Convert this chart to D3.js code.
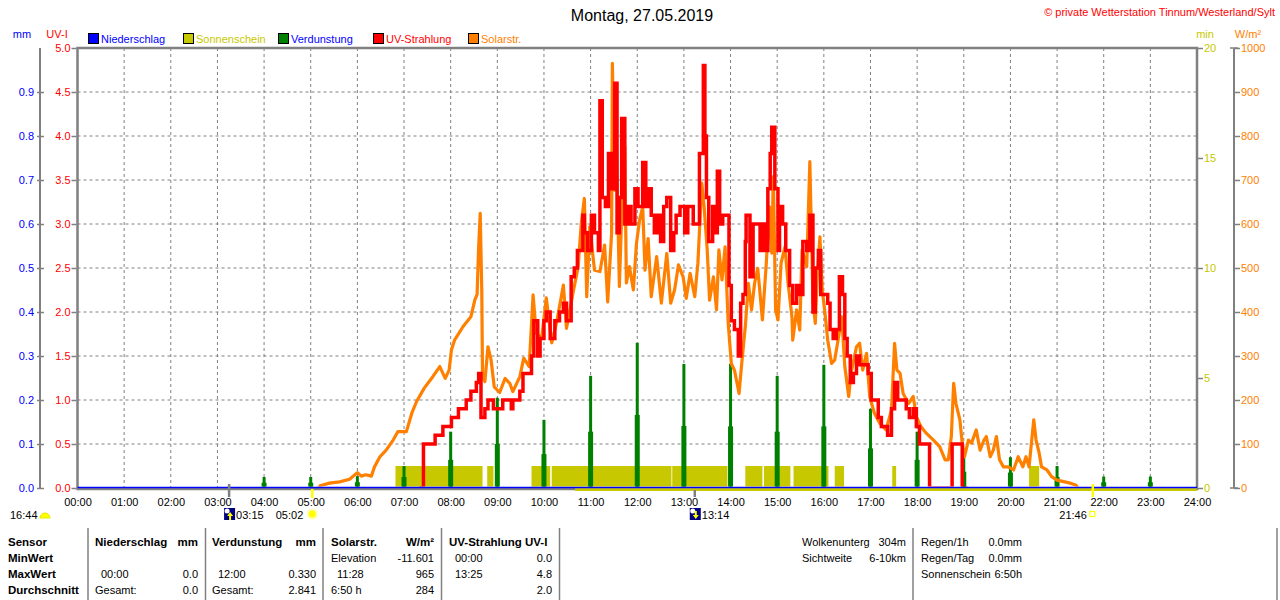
<!DOCTYPE html>
<html>
<head>
<meta charset="utf-8">
<script src="https://cdn.jsdelivr.net/npm/d3@7"></script>
<style>
  body { margin: 0; background: #fff; }
  svg { display: block; font-family: "Liberation Sans", Arial, sans-serif; }
</style>
</head>
<body>
<svg id="chart" width="1280" height="600"></svg>
<script>
// Tick labels for the axes.
const hourLabels = ["00:00", "01:00", "02:00", "03:00", "04:00", "05:00", "06:00", "07:00", "08:00",
  "09:00", "10:00", "11:00", "12:00", "13:00", "14:00", "15:00", "16:00", "17:00", "18:00",
  "19:00", "20:00", "21:00", "22:00", "23:00", "24:00"];
const uvTicks = [0, 0.5, 1, 1.5, 2, 2.5, 3, 3.5, 4, 4.5, 5];
const mmTicks = [0, 0.1, 0.2, 0.3, 0.4, 0.5, 0.6, 0.7, 0.8, 0.9];
const minTicks = [0, 5, 10, 15, 20];
const solarTicks = [0, 100, 200, 300, 400, 500, 600, 700, 800, 900, 1000];

// Niederschlag (mm) - nothing fell all day.
const rain = [["00:00", 0], ["24:00", 0]];

// Sonnenschein (min) - blocks of sunshine.
const sunStart = ["06:49", "08:47", "09:44", "10:10", "12:45", "14:19", "14:43", "15:21", "16:14", "17:28", "18:44", "20:24"];
const sunEnd = ["08:41", "08:55", "10:08", "12:44", "13:56", "14:41", "15:17", "16:06", "16:26", "17:33", "18:46", "20:37"];
const sunValue = [1, 1, 1, 1, 1, 1, 1, 1, 1, 1, 1, 1];
const sunBaseFrom = "10:40";

// Verdunstung (mm) per hour.
const evapHours = ["04:00", "05:00", "06:00", "07:00", "08:00", "09:00", "10:00", "11:00", "12:00", "13:00",
  "14:00", "15:00", "16:00", "17:00", "18:00", "19:00", "20:00", "21:00", "22:00", "23:00"];
const evapValues = [0.025, 0.025, 0.027, 0.05, 0.128, 0.205, 0.155, 0.255, 0.33, 0.282,
  0.282, 0.255, 0.28, 0.18, 0.128, 0.075, 0.07, 0.05, 0.026, 0.026];
const evapLead = [0.012, 0.012, 0.013, 0.025, 0.064, 0.1, 0.077, 0.128, 0.166, 0.141,
  0.14, 0.128, 0.14, 0.09, 0.064, 0.037, 0.035, 0.025, 0.013, 0.013];

// UV-Strahlung (UV-I).
const uv = [["07:20", 0], ["07:25", 0.5], ["07:40", 0.6], ["07:50", 0.7], ["08:01", 0.8], ["08:10", 0.9],
  ["08:20", 1.0], ["08:26", 1.1], ["08:33", 1.2], ["08:36", 1.3], ["08:39", 0.8], ["08:44", 0.9],
  ["08:48", 1.0], ["08:55", 0.9], ["09:07", 1.0], ["09:18", 0.9], ["09:20", 1.0], ["09:29", 1.1],
  ["09:33", 1.3], ["09:44", 1.5], ["09:47", 1.9], ["09:52", 1.5], ["09:55", 1.7], ["10:00", 1.9],
  ["10:03", 2.0], ["10:08", 1.7], ["10:14", 1.9], ["10:20", 2.0], ["10:25", 2.1], ["10:29", 1.9],
  ["10:35", 2.4], ["10:39", 2.5], ["10:43", 2.7], ["10:50", 3.1], ["10:52", 2.9], ["10:56", 2.7],
  ["11:01", 3.1], ["11:05", 2.9], ["11:10", 2.7], ["11:12", 4.4], ["11:15", 3.3], ["11:19", 3.2],
  ["11:23", 3.8], ["11:27", 3.4], ["11:31", 4.6], ["11:34", 2.9], ["11:37", 3.3], ["11:40", 4.2],
  ["11:44", 3.0], ["11:48", 3.2], ["11:52", 3.0], ["11:57", 3.4], ["12:01", 3.2], ["12:07", 3.7],
  ["12:11", 3.2], ["12:15", 3.4], ["12:18", 3.1], ["12:22", 2.9], ["12:26", 3.1], ["12:30", 2.8],
  ["12:34", 3.2], ["12:38", 3.3], ["12:43", 2.7], ["12:47", 2.9], ["12:50", 3.1], ["12:55", 3.2],
  ["13:01", 2.9], ["13:05", 3.2], ["13:12", 3.0], ["13:20", 3.8], ["13:25", 4.8], ["13:27", 4.0],
  ["13:29", 3.3], ["13:32", 2.8], ["13:37", 3.2], ["13:40", 2.9], ["13:43", 3.6], ["13:46", 3.0],
  ["13:50", 3.1], ["13:58", 2.3], ["14:01", 1.9], ["14:05", 1.8], ["14:10", 1.5], ["14:13", 2.1],
  ["14:16", 2.2], ["14:19", 2.8], ["14:20", 3.1], ["14:25", 2.4], ["14:29", 3.0], ["14:38", 2.7],
  ["14:41", 3.0], ["14:45", 2.7], ["14:48", 3.4], ["14:51", 3.8], ["14:53", 4.1], ["14:57", 3.4],
  ["15:01", 2.7], ["15:03", 3.2], ["15:07", 3.0], ["15:11", 2.7], ["15:16", 2.3], ["15:20", 2.1],
  ["15:25", 2.3], ["15:29", 2.2], ["15:33", 2.8], ["15:38", 2.7], ["15:42", 3.1], ["15:46", 2.0],
  ["15:49", 2.5], ["15:53", 2.7], ["15:56", 2.2], ["16:05", 2.1], ["16:08", 1.8], ["16:12", 1.7],
  ["16:16", 1.8], ["16:20", 2.4], ["16:24", 2.2], ["16:27", 1.7], ["16:30", 1.5], ["16:34", 1.2],
  ["16:38", 1.3], ["16:42", 1.5], ["16:46", 1.4], ["16:53", 1.4], ["16:57", 1.3], ["17:01", 1.0],
  ["17:10", 0.8], ["17:14", 0.7], ["17:22", 0.6], ["17:27", 0.9], ["17:31", 1.2], ["17:35", 1.0],
  ["17:46", 0.9], ["17:50", 0.8], ["17:55", 0.9], ["17:59", 0.7], ["18:03", 0.5], ["18:16", 0],
  ["18:45", 0.5], ["18:58", 0], ["19:05", 0]];

// Solarstrahlung (W/m²).
const solar = [["05:10", 0], ["05:12", 5], ["05:24", 11], ["05:37", 14], ["05:50", 20], ["06:00", 35],
  ["06:05", 27], ["06:11", 30], ["06:18", 27], ["06:22", 48], ["06:29", 71], ["06:37", 86],
  ["06:46", 109], ["06:52", 128], ["07:03", 128], ["07:10", 170], ["07:16", 196], ["07:26", 227],
  ["07:37", 253], ["07:46", 276], ["07:53", 249], ["07:58", 268], ["08:01", 314], ["08:05", 336],
  ["08:16", 367], ["08:26", 389], ["08:31", 427], ["08:34", 440], ["08:36", 548], ["08:38", 624],
  ["08:40", 450], ["08:41", 253], ["08:44", 242], ["08:48", 321], ["08:52", 291], ["08:56", 230],
  ["09:03", 217], ["09:10", 249], ["09:16", 238], ["09:20", 219], ["09:29", 253], ["09:34", 295],
  ["09:41", 276], ["09:46", 439], ["09:50", 352], ["09:57", 340], ["10:03", 432], ["10:10", 330],
  ["10:16", 374], ["10:25", 461], ["10:29", 363], ["10:37", 440], ["10:44", 503], ["10:48", 602],
  ["10:52", 658], ["10:55", 435], ["10:59", 594], ["11:05", 495], ["11:12", 492], ["11:18", 552],
  ["11:22", 423], ["11:27", 579], ["11:28", 965], ["11:31", 677], ["11:33", 795], ["11:37", 458],
  ["11:41", 677], ["11:44", 776], ["11:46", 466], ["11:50", 503], ["11:55", 450], ["11:59", 556],
  ["12:03", 609], ["12:07", 639], ["12:10", 495], ["12:14", 567], ["12:18", 435], ["12:25", 526],
  ["12:31", 420], ["12:38", 533], ["12:43", 420], ["12:48", 450], ["12:53", 507], ["12:59", 480],
  ["13:03", 431], ["13:08", 488], ["13:14", 435], ["13:18", 511], ["13:23", 693], ["13:26", 639],
  ["13:30", 541], ["13:33", 427], ["13:38", 480], ["13:42", 405], ["13:45", 541], ["13:49", 473],
  ["13:53", 548], ["13:57", 374], ["14:01", 283], ["14:05", 268], ["14:11", 215], ["14:14", 276],
  ["14:19", 367], ["14:23", 465], ["14:27", 405], ["14:31", 466], ["14:35", 499], ["14:41", 382],
  ["14:46", 511], ["14:50", 639], ["14:53", 534], ["14:55", 708], ["14:58", 405], ["15:01", 382],
  ["15:05", 511], ["15:10", 548], ["15:14", 465], ["15:19", 389], ["15:20", 336], ["15:25", 405],
  ["15:29", 359], ["15:32", 541], ["15:38", 503], ["15:42", 742], ["15:46", 427], ["15:49", 374],
  ["15:52", 495], ["15:55", 571], ["15:58", 450], ["16:01", 405], ["16:05", 336], ["16:10", 283],
  ["16:14", 291], ["16:19", 344], ["16:23", 389], ["16:27", 276], ["16:32", 208], ["16:35", 261],
  ["16:42", 321], ["16:46", 329], ["16:50", 268], ["16:55", 306], ["16:59", 208], ["17:05", 170],
  ["17:12", 147], ["17:20", 132], ["17:27", 177], ["17:31", 329], ["17:34", 268], ["17:38", 261],
  ["17:42", 215], ["17:49", 192], ["17:55", 208], ["17:59", 162], ["18:05", 139], ["18:12", 124],
  ["18:21", 109], ["18:29", 94], ["18:36", 64], ["18:40", 64], ["18:44", 117], ["18:47", 238],
  ["18:50", 192], ["18:55", 155], ["18:58", 102], ["19:01", 71], ["19:06", 109], ["19:10", 102],
  ["19:16", 132], ["19:21", 86], ["19:26", 109], ["19:29", 117], ["19:34", 71], ["19:38", 86],
  ["19:42", 117], ["19:46", 64], ["19:51", 48], ["19:57", 48], ["20:04", 41], ["20:10", 71],
  ["20:16", 48], ["20:20", 71], ["20:24", 48], ["20:30", 155], ["20:33", 109], ["20:37", 79],
  ["20:40", 48], ["20:47", 41], ["20:53", 26], ["21:00", 18], ["21:17", 11], ["21:24", 7],
  ["21:27", 0]];

// Sun and moon times.
const moonRise = "03:15", sunRise = "05:02", moonSet = "13:14", sunSet = "21:46", dayLength = "16:44";

// Table below the chart.
const tableRows = ["Sensor", "MinWert", "MaxWert", "Durchschnitt"];
const tableCells = [
  // [row, x, anchor, text, bold]
  [0, 95, "start", "Niederschlag", true], [0, 198, "end", "mm", true],
  [0, 212, "start", "Verdunstung", true], [0, 316, "end", "mm", true],
  [0, 331, "start", "Solarstr.", true], [0, 434, "end", "W/m²", true],
  [0, 449, "start", "UV-Strahlung UV-I", true],
  [2, 101, "start", "00:00"], [2, 198, "end", "0.0"],
  [3, 95, "start", "Gesamt:"], [3, 198, "end", "0.0"],
  [2, 218, "start", "12:00"], [2, 316, "end", "0.330"],
  [3, 212, "start", "Gesamt:"], [3, 316, "end", "2.841"],
  [1, 331, "start", "Elevation"], [1, 434, "end", "-11.601"],
  [2, 337, "start", "11:28"], [2, 434, "end", "965"],
  [3, 331, "start", "6:50 h"], [3, 434, "end", "284"],
  [1, 455, "start", "00:00"], [1, 552, "end", "0.0"],
  [2, 455, "start", "13:25"], [2, 552, "end", "4.8"],
  [3, 552, "end", "2.0"],
  [0, 802, "start", "Wolkenunterg"], [0, 906, "end", "304m"],
  [1, 802, "start", "Sichtweite"], [1, 906, "end", "6-10km"],
  [0, 921, "start", "Regen/1h"], [0, 1022, "end", "0.0mm"],
  [1, 921, "start", "Regen/Tag"], [1, 1022, "end", "0.0mm"],
  [2, 921, "start", "Sonnenschein"], [2, 1022, "end", "6:50h"]
];
const tableDividers = [88, 205.5, 323, 441.5, 559.5, 913, 1277];

(function () {
  const BLUE = "#0000ff", YELLOW = "#c8c800", GREEN = "#008000", RED = "#ff0000",
    ORANGE = "#ff8000", GREY = "#808080";

  const hrs = (s) => {
    const p = s.split(":");
    return +p[0] + p[1] / 60;
  };

  const svg = d3.select("#chart");
  const left = 77.5, right = 1197, top = 48, bottom = 488;

  const x = d3.scaleLinear().domain([0, 24]).range([left, right]);
  const yUV = d3.scaleLinear().domain([0, 5]).range([bottom, top]);
  const yMM = d3.scaleLinear().domain([0, 1]).range([bottom, top]);
  const yMin = d3.scaleLinear().domain([0, 20]).range([bottom, top]);
  const ySol = d3.scaleLinear().domain([0, 1000]).range([bottom, top]);

  // Title and copyright.
  svg.append("text").attr("x", 642).attr("y", 21).attr("text-anchor", "middle")
    .attr("font-size", 16).text("Montag, 27.05.2019");
  svg.append("text").attr("x", 1275).attr("y", 16).attr("text-anchor", "end")
    .attr("font-size", 11).attr("fill", RED).text("© private Wetterstation Tinnum/Westerland/Sylt");

  // Axis unit labels.
  const unit = (xx, txt, col, anchor) => svg.append("text").attr("x", xx).attr("y", 38)
    .attr("font-size", 11).attr("fill", col).attr("text-anchor", anchor || "middle").text(txt);
  unit(22, "mm", BLUE);
  unit(57, "UV-I", RED);
  unit(1205, "min", YELLOW);
  unit(1248, "W/m²", ORANGE);

  // Legend.
  const legend = [
    { name: "Niederschlag", color: BLUE, text: BLUE, x: 88 },
    { name: "Sonnenschein", color: YELLOW, text: YELLOW, x: 183 },
    { name: "Verdunstung", color: GREEN, text: BLUE, x: 278 },
    { name: "UV-Strahlung", color: RED, text: RED, x: 373 },
    { name: "Solarstr.", color: ORANGE, text: ORANGE, x: 468 },
  ];
  const lg = svg.selectAll(".lg").data(legend).enter().append("g");
  lg.append("rect").attr("x", (d) => d.x + 0.5).attr("y", 33.5).attr("width", 10).attr("height", 10)
    .attr("fill", (d) => d.color).attr("stroke", "#000");
  lg.append("text").attr("x", (d) => d.x + 13).attr("y", 43).attr("font-size", 11)
    .attr("fill", (d) => d.text).text((d) => d.name);

  // Grid.
  const grid = svg.append("g").attr("stroke", GREY).attr("stroke-dasharray", "3,3");
  grid.selectAll(".v").data(hourLabels.slice(1, -1)).enter().append("line")
    .attr("x1", (d) => x(hrs(d))).attr("x2", (d) => x(hrs(d)))
    .attr("y1", top).attr("y2", bottom);
  grid.selectAll(".h").data(uvTicks.slice(1, -1)).enter().append("line")
    .attr("x1", left).attr("x2", right).attr("y1", (d) => yUV(d)).attr("y2", (d) => yUV(d));

  // Plot frame.
  svg.append("rect").attr("x", left).attr("y", top).attr("width", right - left)
    .attr("height", bottom - top + 1).attr("fill", "none").attr("stroke", GREY).attr("stroke-width", 2.5);

  // Axes.
  function styleAxis(g, col) {
    g.select(".domain").remove();
    g.selectAll(".tick line").attr("stroke", GREY).attr("stroke-width", 1.5);
    g.selectAll(".tick text").attr("fill", col).attr("font-size", 11)
      .attr("font-family", "Liberation Sans, Arial, sans-serif");
  }
  svg.append("g").attr("transform", `translate(${left - 1},0)`)
    .call(d3.axisLeft(yUV).tickValues(uvTicks).tickFormat(d3.format(".1f")).tickSize(5).tickPadding(1))
    .call((g) => styleAxis(g, RED));

  svg.append("line").attr("x1", 40).attr("x2", 40).attr("y1", top).attr("y2", bottom)
    .attr("stroke", GREY).attr("stroke-width", 2);
  svg.append("g").attr("transform", "translate(44,0)")
    .call(d3.axisLeft(yMM).tickValues(mmTicks).tickFormat(d3.format(".1f")).tickSize(7).tickPadding(3))
    .call((g) => styleAxis(g, BLUE));

  svg.append("g").attr("transform", `translate(${right + 1},0)`)
    .call(d3.axisRight(yMin).tickValues(minTicks).tickFormat(d3.format("d")).tickSize(5).tickPadding(1))
    .call((g) => styleAxis(g, YELLOW));

  svg.append("line").attr("x1", 1234).attr("x2", 1234).attr("y1", top).attr("y2", bottom)
    .attr("stroke", GREY).attr("stroke-width", 2);
  [top, bottom].forEach((yy) => svg.append("line").attr("x1", 1230).attr("x2", 1238)
    .attr("y1", yy).attr("y2", yy).attr("stroke", GREY).attr("stroke-width", 1.5));
  svg.append("g").attr("transform", "translate(1234,0)")
    .call(d3.axisRight(ySol).tickValues(solarTicks).tickFormat(d3.format("d")).tickSize(6).tickPadding(1))
    .call((g) => styleAxis(g, ORANGE));

  svg.append("g").attr("transform", `translate(0,${bottom})`)
    .call(d3.axisBottom(x).tickValues(hourLabels.map(hrs)).tickFormat((d, i) => hourLabels[i])
      .tickSize(0).tickPadding(10))
    .call((g) => styleAxis(g, "#000"));

  // Clip for the lines so the zero parts stay hidden under the base line.
  svg.append("clipPath").attr("id", "plot").append("rect")
    .attr("x", left).attr("y", top - 10).attr("width", right - left).attr("height", bottom - top + 8.5);
  const plot = svg.append("g").attr("clip-path", "url(#plot)");

  // Sonnenschein blocks.
  plot.selectAll(".sun").data(sunStart).enter().append("rect")
    .attr("x", (d) => x(hrs(d)))
    .attr("width", (d, i) => x(hrs(sunEnd[i])) - x(hrs(d)))
    .attr("y", (d, i) => yMin(sunValue[i]))
    .attr("height", (d, i) => bottom - yMin(sunValue[i]))
    .attr("fill", YELLOW);

  // Verdunstung bars.
  const ev = plot.selectAll(".ev").data(evapHours).enter().append("g");
  ev.append("rect").attr("x", (d) => x(hrs(d)) - 2.5).attr("width", 5)
    .attr("y", (d, i) => yMM(evapLead[i])).attr("height", (d, i) => bottom - yMM(evapLead[i]))
    .attr("fill", GREEN);
  ev.append("rect").attr("x", (d) => x(hrs(d)) - 1.5).attr("width", 3)
    .attr("y", (d, i) => yMM(evapValues[i])).attr("height", (d, i) => bottom - yMM(evapValues[i]))
    .attr("fill", GREEN);

  // Solarstrahlung.
  const solarLine = d3.line().x((d) => x(hrs(d[0]))).y((d) => ySol(d[1]));
  plot.append("path").datum(solar).attr("d", solarLine).attr("fill", "none")
    .attr("stroke", ORANGE).attr("stroke-width", 3.2).attr("stroke-linejoin", "round");

  // UV-Strahlung.
  const uvLine = d3.line().x((d) => x(hrs(d[0]))).y((d) => yUV(d[1])).curve(d3.curveStepAfter);
  plot.append("path").datum(uv).attr("d", uvLine).attr("fill", "none")
    .attr("stroke", RED).attr("stroke-width", 3.5);

  // Niederschlag line and the sunshine base line.
  const rainLine = d3.line().x((d) => x(hrs(d[0]))).y((d) => yMM(d[1]) - 0.5);
  svg.append("path").datum(rain).attr("d", rainLine).attr("stroke", BLUE).attr("stroke-width", 1.5);
  svg.append("line").attr("x1", x(hrs(sunBaseFrom))).attr("x2", right)
    .attr("y1", bottom + 1.8).attr("y2", bottom + 1.8).attr("stroke", YELLOW).attr("stroke-width", 2.5);

  // Sun and moon markers.
  const mark = (t, col, y1, y2) => svg.append("line").attr("x1", x(hrs(t))).attr("x2", x(hrs(t)))
    .attr("y1", y1).attr("y2", y2).attr("stroke", col).attr("stroke-width", 2.5);
  mark(moonRise, GREY, 484, 497);
  mark(moonSet, GREY, 490, 497);
  mark(sunRise, "#ffff00", 489, 498);
  mark(sunSet, "#ffff00", 484, 497);

  const small = (xx, txt, anchor) => svg.append("text").attr("x", xx).attr("y", 519)
    .attr("font-size", 11).attr("text-anchor", anchor || "start").text(txt);

  small(10, dayLength);
  svg.append("path").attr("d", "M40,518 A5,5 0 0 1 50,518 Z").attr("fill", "#ffff00")
    .attr("stroke", "#e8e800");

  function moonIcon(t, up) {
    const cx = x(hrs(t));
    svg.append("rect").attr("x", cx - 5).attr("y", 508).attr("width", 11).attr("height", 12).attr("fill", "#000080");
    svg.append("circle").attr("cx", cx - 2).attr("cy", 511).attr("r", 2.5).attr("fill", "#fff");
    svg.append("path").attr("fill", "#ffff00").attr("d", up
      ? `M${cx + 1},512 l3,4 h-2 v4 h-2 v-4 h-2 z`
      : `M${cx + 1},519 l3,-4 h-2 v-4 h-2 v4 h-2 z`);
    return cx;
  }
  small(moonIcon(moonRise, true) + 7, moonRise);
  small(moonIcon(moonSet, false) + 7, moonSet);

  const sx = x(hrs(sunRise));
  small(sx - 9, sunRise, "end");
  svg.append("circle").attr("cx", sx).attr("cy", 514).attr("r", 5.5).attr("fill", "#ffffb0");
  svg.append("circle").attr("cx", sx).attr("cy", 514).attr("r", 3.5).attr("fill", "#ffff00");

  const ex = x(hrs(sunSet));
  small(ex - 6, sunSet, "end");
  svg.append("rect").attr("x", ex - 3).attr("y", 511.5).attr("width", 5).attr("height", 5)
    .attr("fill", "none").attr("stroke", "#ffff00").attr("stroke-width", 1.2);

  // Table.
  const rowY = (r) => 546 + r * 16;
  svg.selectAll(".row").data(tableRows).enter().append("text")
    .attr("x", 8).attr("y", (d, i) => rowY(i)).attr("font-size", 11.5).attr("font-weight", "bold")
    .text((d) => d);
  svg.selectAll(".cell").data(tableCells).enter().append("text")
    .attr("x", (d) => d[1]).attr("y", (d) => rowY(d[0])).attr("text-anchor", (d) => d[2])
    .attr("font-size", (d) => (d[4] ? 11.5 : 11)).attr("font-weight", (d) => (d[4] ? "bold" : "normal"))
    .text((d) => d[3]);
  svg.selectAll(".div").data(tableDividers).enter().append("line")
    .attr("x1", (d) => d).attr("x2", (d) => d).attr("y1", 528).attr("y2", 600)
    .attr("stroke", GREY).attr("stroke-width", 1.5);
})();
</script>
</body>
</html>
